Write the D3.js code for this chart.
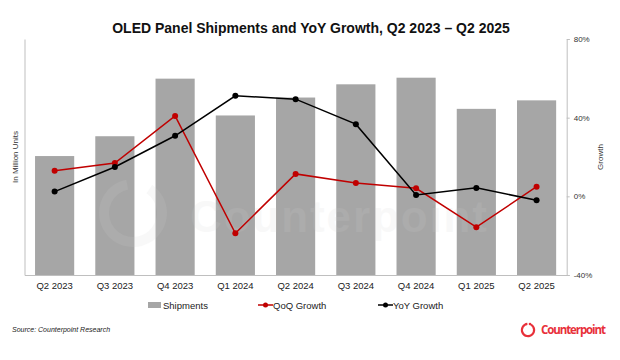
<!DOCTYPE html>
<html><head><meta charset="utf-8">
<script src="https://cdn.jsdelivr.net/npm/d3@7"></script>
<style>body{margin:0;background:#fff} svg{display:block;font-family:"Liberation Sans",Arial,sans-serif}</style>
</head><body><svg id="c" width="620" height="360"></svg>
<script>
const categories = ["Q2 2023","Q3 2023","Q4 2023","Q1 2024","Q2 2024","Q3 2024","Q4 2024","Q1 2025","Q2 2025"];
const shipments = [126,147,208,169,188,202,209,176,185];
const qoqGrowth = [13.0,16.9,40.9,-18.8,11.4,6.8,4.1,-15.7,4.9];
const yoyGrowth = [2.4,14.9,30.8,51.1,49.4,36.7,0.7,4.3,-2.0];
const growthTicks = [-40,0,40,80];

const svg = d3.select("#c");
const L = 24.5, R = 566.7, T = 39, B = 275;
const red = "#c00000", grey = "#a6a6a6", axisGrey = "#bfbfbf";

const x = d3.scaleBand().domain(categories).range([L, R]).paddingInner(0.35).paddingOuter(0.175);
const yL = d3.scaleLinear().domain([0, 250]).range([B, T]);
const yR = d3.scaleLinear().domain([-40, 80]).range([B, T]);

// title
svg.append("text").attr("x", 311).attr("y", 33).attr("text-anchor","middle")
  .attr("font-size", 14).attr("font-weight","bold").attr("fill","#111")
  .text("OLED Panel Shipments and YoY Growth, Q2 2023 \u2013 Q2 2025");

// bars
svg.append("g").selectAll("rect").data(shipments).join("rect")
  .attr("x", (d,i) => x(categories[i])).attr("width", x.bandwidth())
  .attr("y", d => yL(d)).attr("height", d => yL(0) - yL(d)).attr("fill", grey);

// watermark (semi-transparent, over bars)
const wm = svg.append("g").attr("fill","#d0d0d0").attr("opacity",0.14);
wm.append("path").attr("d", d3.arc()({innerRadius:24, outerRadius:34, startAngle:0.6, endAngle:2*Math.PI-0.2}))
  .attr("transform","translate(133,213)");
wm.append("text").attr("x",190).attr("y",232).attr("font-size",44).attr("font-weight","bold")
  .attr("textLength",297).text("Counterpoint");

// axes
const gl = svg.append("g").attr("transform",`translate(${L},0)`)
  .call(d3.axisLeft(yL).ticks(0).tickSize(0).tickFormat(""));
gl.select(".domain").attr("stroke", axisGrey);

const gb = svg.append("g").attr("transform",`translate(0,${B})`)
  .call(d3.axisBottom(x).tickSize(0).tickPadding(7));
gb.select(".domain").attr("stroke", axisGrey);
gb.selectAll("text").attr("font-size", 9.5).attr("fill","#222").attr("font-family","Liberation Sans, Arial, sans-serif");

const gr = svg.append("g").attr("transform",`translate(${R},0)`)
  .call(d3.axisRight(yR).tickValues(growthTicks).tickSize(3).tickPadding(4).tickFormat(d => d + "%"));
gr.select(".domain").attr("stroke", axisGrey);
gr.selectAll(".tick line").attr("stroke", axisGrey);
gr.selectAll("text").attr("font-size", 8).attr("fill","#333").attr("font-family","Liberation Sans, Arial, sans-serif");

// axis titles
svg.append("text").attr("transform","translate(18,157) rotate(-90)").attr("text-anchor","middle")
  .attr("font-size", 8).attr("fill","#333").text("In Million Units");
svg.append("text").attr("transform","translate(603,157) rotate(-90)").attr("text-anchor","middle")
  .attr("font-size", 8).attr("fill","#333").text("Growth");

// lines
const cx = i => x(categories[i]) + x.bandwidth()/2;
function series(data, color) {
  const line = d3.line().x((d,i) => cx(i)).y(d => yR(d));
  svg.append("path").datum(data).attr("d", line).attr("fill","none").attr("stroke", color).attr("stroke-width", 1.5);
  svg.append("g").selectAll("circle").data(data).join("circle")
    .attr("cx", (d,i) => cx(i)).attr("cy", d => yR(d)).attr("r", 3).attr("fill", color);
}
series(qoqGrowth, red);
series(yoyGrowth, "#000");

// legend
const lg = svg.append("g").attr("font-size", 9.5).attr("fill","#222");
lg.append("rect").attr("x",148).attr("y",302).attr("width",13).attr("height",6).attr("fill",grey);
lg.append("text").attr("x",163).attr("y",309).text("Shipments");
[[258, red, "QoQ Growth"], [378, "#000", "YoY Growth"]].forEach(([lx, c, t]) => {
  lg.append("line").attr("x1",lx).attr("x2",lx+15).attr("y1",305).attr("y2",305).attr("stroke",c).attr("stroke-width",1.5);
  lg.append("circle").attr("cx",lx+7.5).attr("cy",305).attr("r",2.5).attr("fill",c);
  lg.append("text").attr("x",lx+15).attr("y",309).text(t);
});

// source
svg.append("text").attr("x",12).attr("y",332).attr("font-size",7).attr("font-style","italic")
  .attr("fill","#222").text("Source: Counterpoint Research");

// logo
const logoRed = "#e8303a";
svg.append("path").attr("d", d3.arc()({innerRadius:5, outerRadius:7.2, startAngle:0.5, endAngle:2*Math.PI-0.1}))
  .attr("transform","translate(528,330)").attr("fill", logoRed);
svg.append("circle").attr("cx",530).attr("cy",324).attr("r",1.3).attr("fill",logoRed);
svg.append("text").attr("x",541).attr("y",334).attr("font-size",11.5).attr("font-weight","bold")
  .attr("font-family","Open Sans, Liberation Sans, sans-serif").attr("fill",logoRed)
  .attr("textLength",65).text("Counterpoint");
</script></body></html>
